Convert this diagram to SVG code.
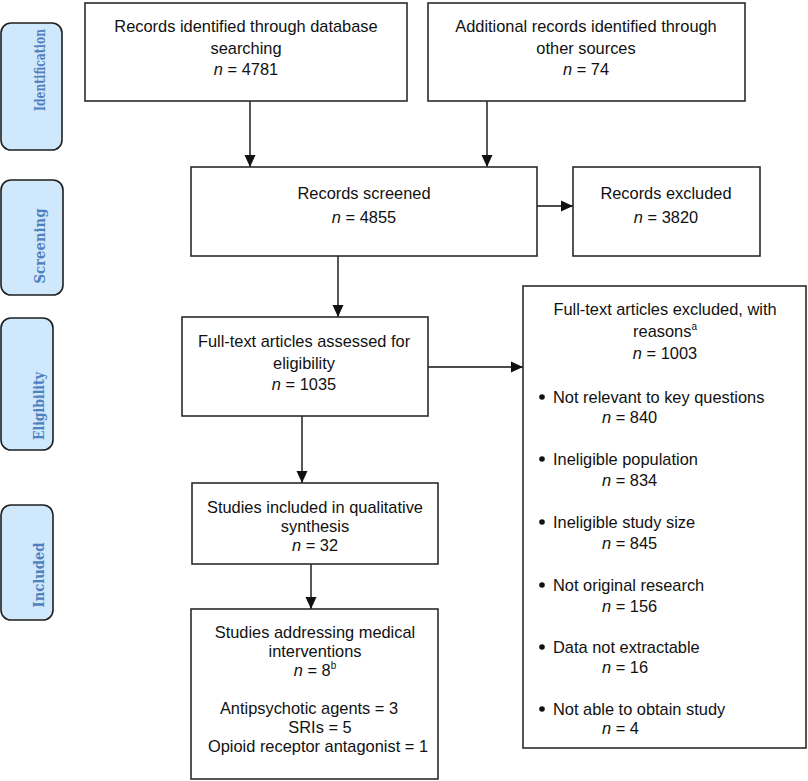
<svg xmlns="http://www.w3.org/2000/svg" width="808" height="781" viewBox="0 0 808 781">
<style>
  .box { fill: #ffffff; stroke: #2b2b2b; stroke-width: 1.6; }
  .side { fill: #cfe8fb; stroke: #1f1f1f; stroke-width: 1.6; }
  .t { font-family: "Liberation Sans", Arial, sans-serif; font-size: 16.4px; fill: #111; }
  .c { text-anchor: middle; }
  .st { font-family: "DejaVu Serif", "Liberation Serif", serif; font-weight: bold; font-size: 14px; fill: #4f80c0; text-anchor: middle; }
  .conn { stroke: #111; stroke-width: 1.4; fill: none; }
  .it { font-style: italic; }
</style>
<defs>
  <marker id="arr" markerUnits="userSpaceOnUse" markerWidth="12" markerHeight="12" viewBox="0 0 12 12" refX="12" refY="6" orient="auto">
    <path d="M0,0.5 L12,6 L0,11.5 z" fill="#111"/>
  </marker>
</defs>

<g id="side-identification">
  <rect class="side" x="1" y="23" width="61" height="127" rx="10"/>
  <text class="st" transform="translate(45,70) rotate(-90)" textLength="82" lengthAdjust="spacingAndGlyphs">Identification</text>
</g>
<g id="side-screening">
  <rect class="side" x="1" y="180" width="62" height="115" rx="10"/>
  <text class="st" transform="translate(45,246) rotate(-90)" textLength="75" lengthAdjust="spacingAndGlyphs">Screening</text>
</g>
<g id="side-eligibility">
  <rect class="side" x="1" y="318" width="52" height="132" rx="10"/>
  <text class="st" transform="translate(44,406) rotate(-90)" textLength="68" lengthAdjust="spacingAndGlyphs">Eligibility</text>
</g>
<g id="side-included">
  <rect class="side" x="1" y="505" width="52" height="115" rx="10"/>
  <text class="st" transform="translate(44,575) rotate(-90)" textLength="65" lengthAdjust="spacingAndGlyphs">Included</text>
</g>

<g id="connectors">
  <line class="conn" x1="250" y1="101" x2="250" y2="167" marker-end="url(#arr)"/>
  <line class="conn" x1="487" y1="101" x2="487" y2="167" marker-end="url(#arr)"/>
  <line class="conn" x1="338" y1="256" x2="338" y2="317" marker-end="url(#arr)"/>
  <line class="conn" x1="535" y1="206" x2="573" y2="206" marker-end="url(#arr)"/>
  <line class="conn" x1="425" y1="367" x2="523" y2="367" marker-end="url(#arr)"/>
  <line class="conn" x1="302" y1="416" x2="302" y2="483" marker-end="url(#arr)"/>
  <line class="conn" x1="311" y1="564" x2="311" y2="609" marker-end="url(#arr)"/>
</g>

<g id="records-database">
  <rect class="box" x="85" y="3" width="322" height="98"/>
  <text class="t c" x="246" y="32">Records identified through database</text>
  <text class="t c" x="246" y="53.5">searching</text>
  <text class="t c" x="246" y="75"><tspan class="it">n</tspan> = 4781</text>
</g>
<g id="records-other">
  <rect class="box" x="428" y="3" width="317" height="98"/>
  <text class="t c" x="586" y="32">Additional records identified through</text>
  <text class="t c" x="586" y="53.5">other sources</text>
  <text class="t c" x="586" y="75"><tspan class="it">n</tspan> = 74</text>
</g>
<g id="records-screened">
  <rect class="box" x="191" y="167" width="346" height="89"/>
  <text class="t c" x="364" y="199">Records screened</text>
  <text class="t c" x="364" y="223"><tspan class="it">n</tspan> = 4855</text>
</g>
<g id="records-excluded">
  <rect class="box" x="573" y="167" width="187" height="89"/>
  <text class="t c" x="666" y="199">Records excluded</text>
  <text class="t c" x="666" y="223"><tspan class="it">n</tspan> = 3820</text>
</g>
<g id="fulltext-assessed">
  <rect class="box" x="182" y="317" width="246" height="99"/>
  <text class="t c" x="304" y="347">Full-text articles assessed for</text>
  <text class="t c" x="304" y="368.5">eligibility</text>
  <text class="t c" x="304" y="390"><tspan class="it">n</tspan> = 1035</text>
</g>
<g id="fulltext-excluded">
  <rect class="box" x="523" y="286" width="283" height="462"/>
  <text class="t c" x="665" y="315">Full-text articles excluded, with</text>
  <text class="t c" x="665" y="337">reasons<tspan dy="-7" font-size="10">a</tspan></text>
  <text class="t c" x="665" y="359"><tspan class="it">n</tspan> = 1003</text>
  <circle cx="542" cy="397" r="2.8" fill="#111"/>
  <text class="t" x="553" y="403">Not relevant to key questions</text>
  <text class="t" x="602" y="423"><tspan class="it">n</tspan> = 840</text>
  <circle cx="542" cy="459" r="2.8" fill="#111"/>
  <text class="t" x="553" y="465">Ineligible population</text>
  <text class="t" x="602" y="486"><tspan class="it">n</tspan> = 834</text>
  <circle cx="542" cy="522" r="2.8" fill="#111"/>
  <text class="t" x="553" y="528">Ineligible study size</text>
  <text class="t" x="602" y="549"><tspan class="it">n</tspan> = 845</text>
  <circle cx="542" cy="585" r="2.8" fill="#111"/>
  <text class="t" x="553" y="591">Not original research</text>
  <text class="t" x="602" y="612"><tspan class="it">n</tspan> = 156</text>
  <circle cx="542" cy="647" r="2.8" fill="#111"/>
  <text class="t" x="553" y="653">Data not extractable</text>
  <text class="t" x="602" y="673"><tspan class="it">n</tspan> = 16</text>
  <circle cx="542" cy="709" r="2.8" fill="#111"/>
  <text class="t" x="553" y="715">Not able to obtain study</text>
  <text class="t" x="602" y="734"><tspan class="it">n</tspan> = 4</text>
</g>
<g id="studies-included">
  <rect class="box" x="192" y="483" width="246" height="81"/>
  <text class="t c" x="315" y="513">Studies included in qualitative</text>
  <text class="t c" x="315" y="532">synthesis</text>
  <text class="t c" x="315" y="551"><tspan class="it">n</tspan> = 32</text>
</g>
<g id="studies-medical">
  <rect class="box" x="191" y="609" width="247" height="170"/>
  <text class="t c" x="315" y="638">Studies addressing medical</text>
  <text class="t c" x="315" y="657">interventions</text>
  <text class="t c" x="315" y="676"><tspan class="it">n</tspan> = 8<tspan dy="-7" font-size="10">b</tspan></text>
  <text class="t c" x="309" y="714">Antipsychotic agents = 3</text>
  <text class="t c" x="320" y="733">SRIs = 5</text>
  <text class="t c" x="318" y="752">Opioid receptor antagonist = 1</text>
</g>
</svg>
